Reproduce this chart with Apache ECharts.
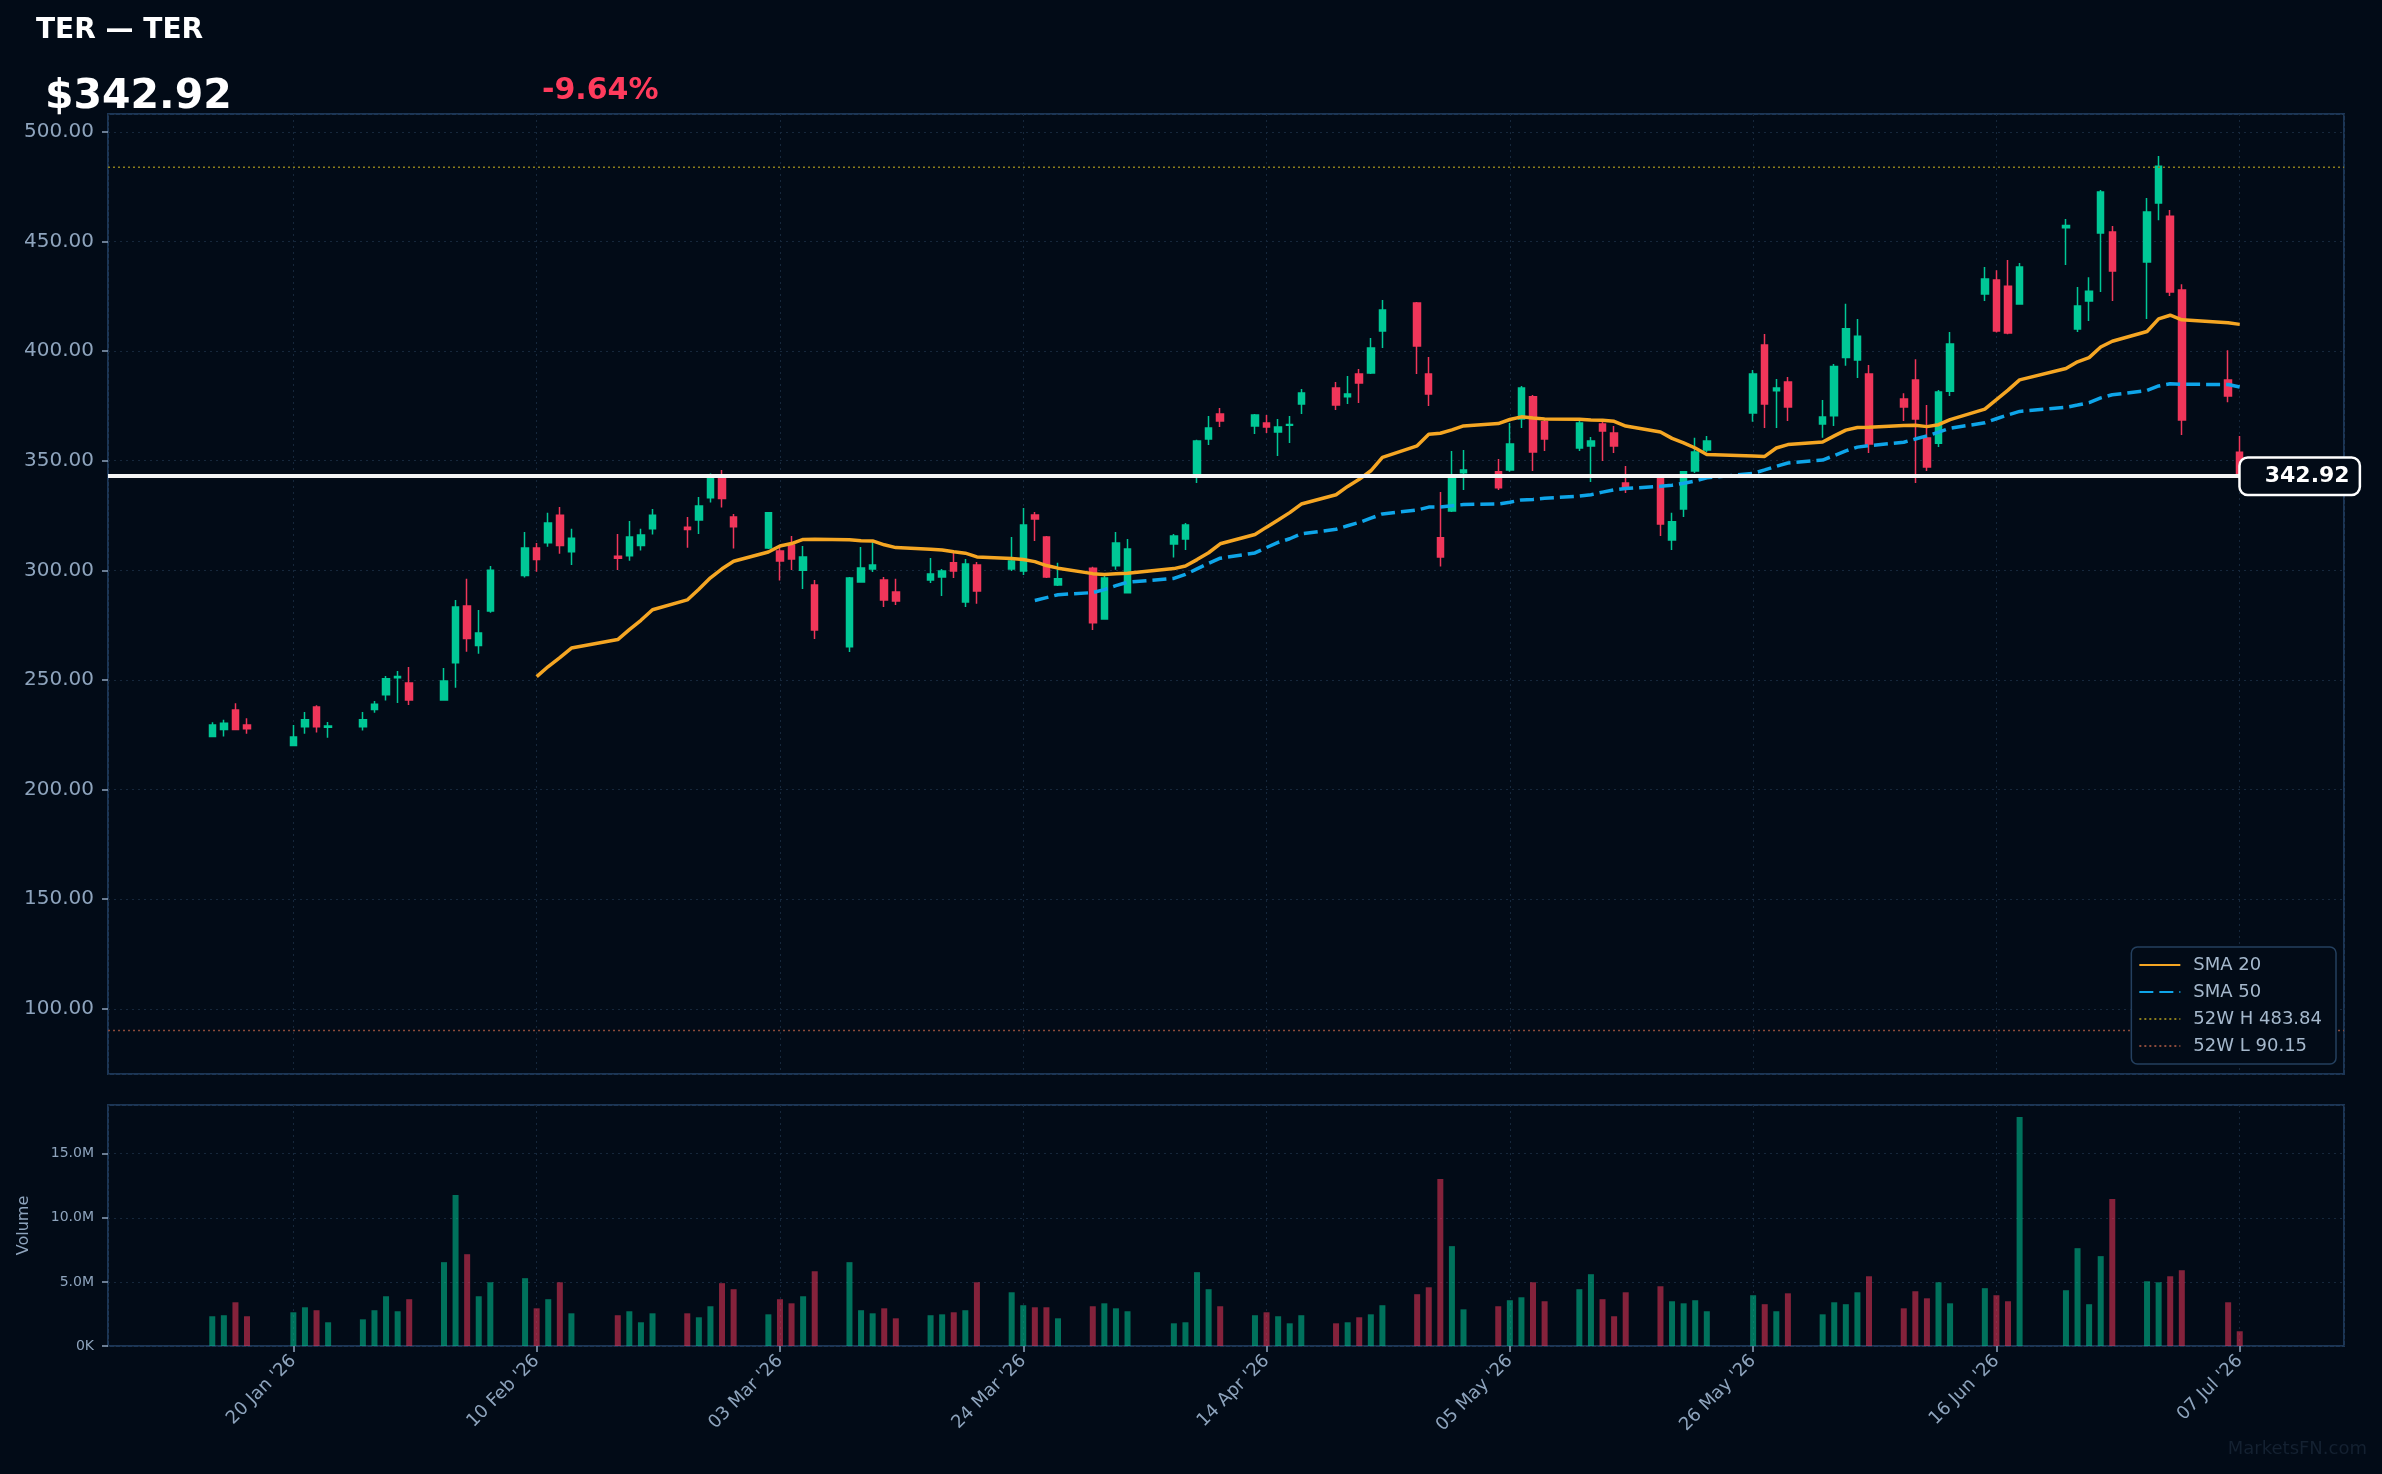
<!DOCTYPE html>
<html>
<head>
<meta charset="utf-8">
<title>TER — TER</title>
<script src="https://cdn.jsdelivr.net/npm/echarts@6/dist/echarts.min.js"></script>
<style>
  html, body { margin: 0; padding: 0; background: #020b17; }
  #chart { width: 2382px; height: 1474px; }
</style>
</head>
<body>
<div id="chart"></div>
<script>
/* =================== TER 日线 K 线 + 成交量 =================== */

// 交易日（每行一周）
const dates = [
  '2026-01-13','2026-01-14','2026-01-15','2026-01-16',
  '2026-01-20','2026-01-21','2026-01-22','2026-01-23',
  '2026-01-26','2026-01-27','2026-01-28','2026-01-29','2026-01-30',
  '2026-02-02','2026-02-03','2026-02-04','2026-02-05','2026-02-06',
  '2026-02-09','2026-02-10','2026-02-11','2026-02-12','2026-02-13',
  '2026-02-17','2026-02-18','2026-02-19','2026-02-20',
  '2026-02-23','2026-02-24','2026-02-25','2026-02-26','2026-02-27',
  '2026-03-02','2026-03-03','2026-03-04','2026-03-05','2026-03-06',
  '2026-03-09','2026-03-10','2026-03-11','2026-03-12','2026-03-13',
  '2026-03-16','2026-03-17','2026-03-18','2026-03-19','2026-03-20',
  '2026-03-23','2026-03-24','2026-03-25','2026-03-26','2026-03-27',
  '2026-03-30','2026-03-31','2026-04-01','2026-04-02',
  '2026-04-06','2026-04-07','2026-04-08','2026-04-09','2026-04-10',
  '2026-04-13','2026-04-14','2026-04-15','2026-04-16','2026-04-17',
  '2026-04-20','2026-04-21','2026-04-22','2026-04-23','2026-04-24',
  '2026-04-27','2026-04-28','2026-04-29','2026-04-30','2026-05-01',
  '2026-05-04','2026-05-05','2026-05-06','2026-05-07','2026-05-08',
  '2026-05-11','2026-05-12','2026-05-13','2026-05-14','2026-05-15',
  '2026-05-18','2026-05-19','2026-05-20','2026-05-21','2026-05-22',
  '2026-05-26','2026-05-27','2026-05-28','2026-05-29',
  '2026-06-01','2026-06-02','2026-06-03','2026-06-04','2026-06-05',
  '2026-06-08','2026-06-09','2026-06-10','2026-06-11','2026-06-12',
  '2026-06-15','2026-06-16','2026-06-17','2026-06-18',
  '2026-06-22','2026-06-23','2026-06-24','2026-06-25','2026-06-26',
  '2026-06-29','2026-06-30','2026-07-01','2026-07-02',
  '2026-07-06','2026-07-07'
];

const opens = [
  224.2, 227.4, 236.3, 229.5,
  220.1, 228.7, 237.7, 228.4,
  228.7, 236.5, 243.2, 251.0, 248.6,
  240.9, 257.9, 283.7, 265.7, 281.5,
  297.6, 310.2, 312.6, 325.1, 308.5,
  306.4, 306.7, 311.3, 319.0,
  319.6, 323.0, 333.1, 343.3, 324.3,
  310.2, 308.8, 311.6, 300.0, 293.3,
  265.2, 294.7, 300.6, 295.6, 290.1,
  295.6, 297.0, 303.4, 285.6, 302.4,
  300.6, 299.7, 325.2, 315.2, 293.3,
  301.0, 277.8, 302.1, 289.8,
  312.0, 314.3, 343.9, 359.9, 371.3,
  365.8, 367.2, 363.1, 366.2, 375.9,
  383.2, 379.2, 389.5, 390.0, 409.1,
  421.9, 389.5, 314.8, 327.1, 344.5,
  344.9, 345.8, 369.0, 379.1, 367.7,
  355.8, 356.7, 366.7, 362.6, 339.8,
  342.1, 313.8, 328.0, 345.3, 354.9,
  371.8, 402.8, 381.9, 385.9,
  366.7, 370.5, 397.0, 395.9, 389.5,
  378.1, 386.8, 360.3, 358.0, 381.7,
  426.0, 432.4, 429.6, 421.4,
  456.2, 410.0, 422.8, 453.8, 454.3,
  440.6, 467.5, 461.5, 427.8,
  386.8, 353.9
];

const highs = [
  230.7, 231.8, 239.4, 232.5,
  229.5, 235.4, 238.5, 230.8,
  235.4, 240.4, 251.8, 254.1, 255.9,
  255.5, 286.5, 296.1, 281.9, 302.0,
  317.5, 312.5, 326.2, 328.9, 318.9,
  316.6, 322.5, 318.9, 328.0,
  324.3, 333.4, 344.2, 345.8, 325.7,
  326.6, 310.6, 315.7, 311.1, 295.6,
  297.0, 310.6, 312.9, 297.0, 296.1,
  305.6, 300.6, 308.4, 305.2, 303.8,
  315.2, 328.4, 326.6, 315.7, 303.4,
  301.6, 297.9, 317.5, 314.3,
  316.6, 321.6, 359.5, 370.4, 374.0,
  371.3, 370.8, 369.0, 370.4, 382.7,
  385.9, 388.6, 391.8, 406.0, 423.3,
  422.4, 397.3, 335.7, 354.4, 354.9,
  350.8, 367.2, 384.1, 380.0, 368.6,
  368.6, 360.8, 367.7, 365.8, 347.6,
  342.5, 326.2, 345.3, 360.4, 361.3,
  391.4, 407.8, 387.3, 388.2,
  377.7, 394.1, 421.6, 414.6, 393.6,
  380.8, 396.3, 375.4, 382.2, 408.7,
  438.3, 436.9, 441.5, 440.1,
  460.2, 429.2, 433.7, 473.4, 457.0,
  469.8, 488.9, 464.3, 430.5,
  400.4, 361.2
];

const lows = [
  224.0, 224.2, 227.3, 225.5,
  220.0, 225.5, 226.0, 223.7,
  226.9, 235.1, 240.6, 239.5, 238.6,
  240.6, 246.5, 262.9, 262.0, 280.7,
  296.7, 299.4, 310.8, 307.6, 302.4,
  300.2, 304.4, 309.0, 316.3,
  310.3, 316.6, 330.9, 328.6, 309.9,
  309.7, 295.3, 300.2, 291.5, 268.7,
  262.8, 294.7, 299.2, 283.3, 284.2,
  294.2, 288.3, 296.5, 283.3, 284.7,
  299.7, 297.9, 313.4, 296.5, 292.9,
  272.8, 277.8, 300.3, 289.8,
  305.8, 309.3, 339.8, 357.2, 365.4,
  362.2, 362.6, 352.1, 358.1, 371.3,
  373.1, 375.9, 376.3, 389.5, 401.4,
  389.5, 374.9, 301.7, 326.6, 336.6,
  336.6, 344.9, 364.9, 345.3, 354.4,
  354.4, 340.3, 349.9, 353.5, 335.3,
  315.7, 309.3, 324.3, 344.4, 354.0,
  367.7, 364.9, 364.9, 368.1,
  360.4, 365.8, 393.3, 387.7, 353.5,
  368.1, 339.8, 345.3, 356.2, 379.5,
  422.8, 408.5, 407.7, 421.4,
  439.2, 408.7, 413.7, 426.9, 422.8,
  414.6, 459.7, 425.1, 361.7,
  376.7, 341.5
];

const closes = [
  229.5, 230.2, 227.4, 227.8,
  224.0, 231.8, 228.7, 229.0,
  231.8, 238.9, 250.5, 251.6, 240.9,
  249.5, 283.3, 268.9, 271.4, 300.0,
  310.2, 304.9, 321.6, 311.3, 314.6,
  305.5, 315.2, 316.1, 325.1,
  318.6, 329.3, 343.3, 332.7, 319.9,
  326.2, 304.3, 305.2, 306.1, 272.8,
  296.5, 301.1, 302.4, 286.5, 286.0,
  298.3, 299.7, 299.7, 302.9, 290.6,
  304.3, 320.7, 323.4, 297.0, 296.1,
  276.1, 296.5, 312.5, 309.7,
  315.7, 320.7, 359.0, 364.9, 368.1,
  370.8, 365.4, 365.4, 366.5, 380.9,
  375.4, 380.4, 385.4, 401.4, 418.7,
  402.3, 380.4, 306.1, 343.5, 345.8,
  337.6, 357.6, 383.2, 354.0, 359.9,
  367.2, 359.0, 363.5, 356.7, 338.0,
  321.1, 322.1, 344.9, 354.0, 359.0,
  389.5, 375.9, 383.2, 374.5,
  369.9, 393.0, 410.2, 406.8, 357.6,
  374.5, 369.0, 347.1, 381.3, 403.2,
  432.8, 409.1, 408.2, 438.3,
  457.3, 420.5, 427.3, 472.5, 436.5,
  463.4, 484.3, 426.9, 368.5,
  379.5, 342.92
];

// 成交量（百万股）
const volumes = [
  2.32, 2.40, 3.41, 2.32,
  2.63, 3.02, 2.79, 1.85,
  2.08, 2.79, 3.88, 2.71, 3.65,
  6.54, 11.77, 7.16, 3.88, 4.97,
  5.29, 2.94, 3.65, 4.97, 2.55,
  2.40, 2.71, 1.85, 2.55,
  2.55, 2.24, 3.10, 4.90, 4.43,
  2.47, 3.65, 3.33, 3.88, 5.83,
  6.54, 2.79, 2.55, 2.94, 2.16,
  2.40, 2.47, 2.63, 2.79, 4.97,
  4.19, 3.18, 3.02, 3.02, 2.16,
  3.10, 3.33, 2.94, 2.71,
  1.77, 1.85, 5.76, 4.43, 3.10,
  2.40, 2.63, 2.32, 1.77, 2.40,
  1.77, 1.85, 2.24, 2.47, 3.18,
  4.04, 4.58, 13.02, 7.79, 2.86,
  3.10, 3.57, 3.80, 4.97, 3.49,
  4.43, 5.60, 3.65, 2.32, 4.19,
  4.66, 3.49, 3.33, 3.57, 2.71,
  3.96, 3.26, 2.71, 4.11,
  2.47, 3.41, 3.26, 4.19, 5.44,
  2.94, 4.27, 3.72, 4.97, 3.33,
  4.51, 3.96, 3.49, 17.86,
  4.35, 7.63, 3.26, 7.01, 11.46,
  5.05, 4.97, 5.44, 5.91,
  3.41, 1.15
];

// 横轴刻度（每 21 天一格）与参考线
const tickDates = ['2026-01-20','2026-02-10','2026-03-03','2026-03-24','2026-04-14',
                   '2026-05-05','2026-05-26','2026-06-16','2026-07-07'];
const LAST_PRICE = 342.92;
const CHANGE_PCT = -9.64;
const HIGH_52W = 483.84;
const LOW_52W = 90.15;

// 配色
const BG = '#020b17';
const UP = '#00c896';
const DOWN = '#f0365a';
const AXIS_TEXT = '#8ea4bd';
const GRID_LINE = '#16273b';
const FRAME = '#1c3656';
const MONTHS = ['Jan','Feb','Mar','Apr','May','Jun','Jul','Aug','Sep','Oct','Nov','Dec'];

// 以 2025-12-30 为第 0 天，使 21 天一格的刻度正好落在 tickDates 上
const DAY_MS = 86400000;
const ORIGIN = Date.UTC(2025, 11, 30);

function dayIndex(s) {
  const [y, m, d] = s.split('-').map(Number);
  return Math.round((Date.UTC(y, m - 1, d) - ORIGIN) / DAY_MS);
}

function formatDay(v) {
  const d = new Date(ORIGIN + v * DAY_MS);
  return String(d.getUTCDate()).padStart(2, '0') + ' ' + MONTHS[d.getUTCMonth()] +
         " '" + String(d.getUTCFullYear()).slice(2);
}

const xs = dates.map(dayIndex);
const TICK_STEP = dayIndex(tickDates[1]) - dayIndex(tickDates[0]);
const X_MIN = xs[0] - 9;
const X_MAX = xs[xs.length - 1] + 9;

/**
 * 简单移动平均（基于收盘价）
 * @param {number} period 周期
 */
function sma(period) {
  const out = [];
  for (let i = period - 1; i < closes.length; i++) {
    let sum = 0;
    for (let j = i - period + 1; j <= i; j++) sum += closes[j];
    out.push([xs[i], sum / period]);
  }
  return out;
}

function renderChart() {
  const chart = echarts.init(document.getElementById('chart'));

  const candleData = xs.map((x, i) => [x, opens[i], closes[i], lows[i], highs[i]]);
  const volumeData = xs.map((x, i) => ({
    value: [x, volumes[i]],
    itemStyle: { color: closes[i] >= opens[i] ? 'rgba(0,200,150,0.55)' : 'rgba(240,54,90,0.55)' }
  }));

  const dotted = { color: GRID_LINE, type: [2, 4], width: 1 };

  const baseX = {
    type: 'value',
    min: X_MIN,
    max: X_MAX,
    minInterval: TICK_STEP,
    maxInterval: TICK_STEP,
    axisLine: { show: false },
    splitLine: { show: true, lineStyle: dotted }
  };

  const option = {
    backgroundColor: BG,
    animation: false,
    textStyle: { fontFamily: 'DejaVu Sans' },
    title: [
      { text: 'TER — TER', left: 36, top: 17, padding: 0,
        textStyle: { color: '#ffffff', fontSize: 28, fontWeight: 'bold' } },
      { text: '$' + LAST_PRICE.toFixed(2), left: 45, top: 77, padding: 0,
        textStyle: { color: '#ffffff', fontSize: 41, fontWeight: 'bold' } },
      { text: CHANGE_PCT.toFixed(2) + '%', left: 542, top: 76, padding: 0,
        textStyle: { color: '#ff3b5c', fontSize: 30, fontWeight: 'bold' } },
      { text: 'MarketsFN.com', right: 15, bottom: 16, padding: 0,
        textStyle: { color: '#142131', fontSize: 18, fontWeight: 'normal' } }
    ],
    legend: {
      data: ['SMA 20', 'SMA 50', '52W H ' + HIGH_52W.toFixed(2), '52W L ' + LOW_52W.toFixed(2)],
      orient: 'vertical',
      right: 46,
      top: 947,
      itemWidth: 41,
      itemHeight: 12,
      itemGap: 9,
      padding: [9, 14, 9, 7],
      backgroundColor: BG,
      borderColor: '#24405f',
      borderWidth: 1.5,
      borderRadius: 6,
      selectedMode: false,
      itemStyle: { opacity: 0 },
      textStyle: { color: '#a5b8cc', fontSize: 18, padding: [0, 0, 0, 8] }
    },
    grid: [
      { left: 108, right: 38, top: 114, height: 960, show: true,
        borderColor: FRAME, borderWidth: 2, backgroundColor: 'transparent', outerBoundsMode: 'none' },
      { left: 108, right: 38, top: 1105, height: 241, show: true,
        borderColor: FRAME, borderWidth: 2, backgroundColor: 'transparent', outerBoundsMode: 'none' }
    ],
    xAxis: [
      Object.assign({}, baseX, {
        gridIndex: 0,
        axisTick: { show: false },
        axisLabel: { show: false }
      }),
      Object.assign({}, baseX, {
        gridIndex: 1,
        axisTick: { show: true, length: 6, lineStyle: { color: AXIS_TEXT, width: 1.5 } },
        axisLabel: {
          show: true, rotate: 45, fontSize: 18, color: AXIS_TEXT, margin: 12,
          showMinLabel: false, showMaxLabel: false, formatter: formatDay
        }
      })
    ],
    yAxis: [
      {
        type: 'value', gridIndex: 0, min: 70.3, max: 508.1,
        minInterval: 50, maxInterval: 50,
        axisLine: { show: false },
        axisTick: { show: true, length: 6, lineStyle: { color: AXIS_TEXT, width: 1.5 } },
        axisLabel: {
          fontSize: 20, color: AXIS_TEXT, margin: 14,
          showMinLabel: false, showMaxLabel: false,
          formatter: v => v.toFixed(2)
        },
        splitLine: { show: true, lineStyle: dotted }
      },
      {
        type: 'value', gridIndex: 1, min: 0, max: 18.8,
        minInterval: 5, maxInterval: 5,
        name: 'Volume', nameLocation: 'middle', nameGap: 76,
        nameTextStyle: { color: AXIS_TEXT, fontSize: 16 },
        axisLine: { show: false },
        axisTick: { show: true, length: 6, lineStyle: { color: AXIS_TEXT, width: 1.5 } },
        axisLabel: {
          fontSize: 14, color: AXIS_TEXT, margin: 14, showMaxLabel: false,
          formatter: v => (v === 0 ? '0K' : v.toFixed(1) + 'M')
        },
        splitLine: { show: true, lineStyle: dotted }
      }
    ],
    series: [
      {
        name: 'TER',
        type: 'candlestick',
        xAxisIndex: 0,
        yAxisIndex: 0,
        barWidth: 7,
        encode: { x: 0, y: [1, 2, 3, 4] },
        itemStyle: {
          color: UP, color0: DOWN,
          borderColor: UP, borderColor0: DOWN, borderColorDoji: UP,
          borderWidth: 1.5
        },
        data: candleData,
        markLine: {
          silent: true,
          symbol: ['none', 'none'],
          z: 5,
          lineStyle: { color: '#f4f4f4', width: 4, type: 'solid' },
          emphasis: { disabled: true },
          label: {
            show: true,
            position: 'end',
            distance: 1,
            formatter: LAST_PRICE.toFixed(2),
            color: '#ffffff',
            fontSize: 22,
            fontWeight: 'bold',
            backgroundColor: BG,
            borderColor: '#ffffff',
            borderWidth: 2.5,
            borderRadius: 7,
            padding: [7, 9, 6, 24]
          },
          data: [[{ coord: [X_MIN, LAST_PRICE] }, { coord: [xs[xs.length - 1], LAST_PRICE] }]]
        }
      },
      {
        name: 'SMA 20',
        type: 'line',
        xAxisIndex: 0, yAxisIndex: 0,
        symbol: 'none',
        z: 4,
        lineStyle: { color: '#f5a623', width: 3.5 },
        itemStyle: { color: '#f5a623' },
        data: sma(20)
      },
      {
        name: 'SMA 50',
        type: 'line',
        xAxisIndex: 0, yAxisIndex: 0,
        symbol: 'none',
        z: 4,
        lineStyle: { color: '#0ea5e9', width: 3.5, type: [14, 6] },
        itemStyle: { color: '#0ea5e9' },
        data: sma(50)
      },
      {
        name: '52W H ' + HIGH_52W.toFixed(2),
        type: 'line',
        xAxisIndex: 0, yAxisIndex: 0,
        symbol: 'none',
        silent: true,
        lineStyle: { color: '#8a7c1c', width: 1.5, type: [2, 3] },
        itemStyle: { color: '#8a7c1c' },
        data: [[X_MIN, HIGH_52W], [X_MAX, HIGH_52W]]
      },
      {
        name: '52W L ' + LOW_52W.toFixed(2),
        type: 'line',
        xAxisIndex: 0, yAxisIndex: 0,
        symbol: 'none',
        silent: true,
        lineStyle: { color: '#8c4a3a', width: 1.5, type: [2, 3] },
        itemStyle: { color: '#8c4a3a' },
        data: [[X_MIN, LOW_52W], [X_MAX, LOW_52W]]
      },
      {
        name: 'Volume',
        type: 'bar',
        xAxisIndex: 1,
        yAxisIndex: 1,
        barWidth: 6,
        data: volumeData
      }
    ]
  };

  chart.setOption(option);
}

renderChart();
</script>
</body>
</html>
